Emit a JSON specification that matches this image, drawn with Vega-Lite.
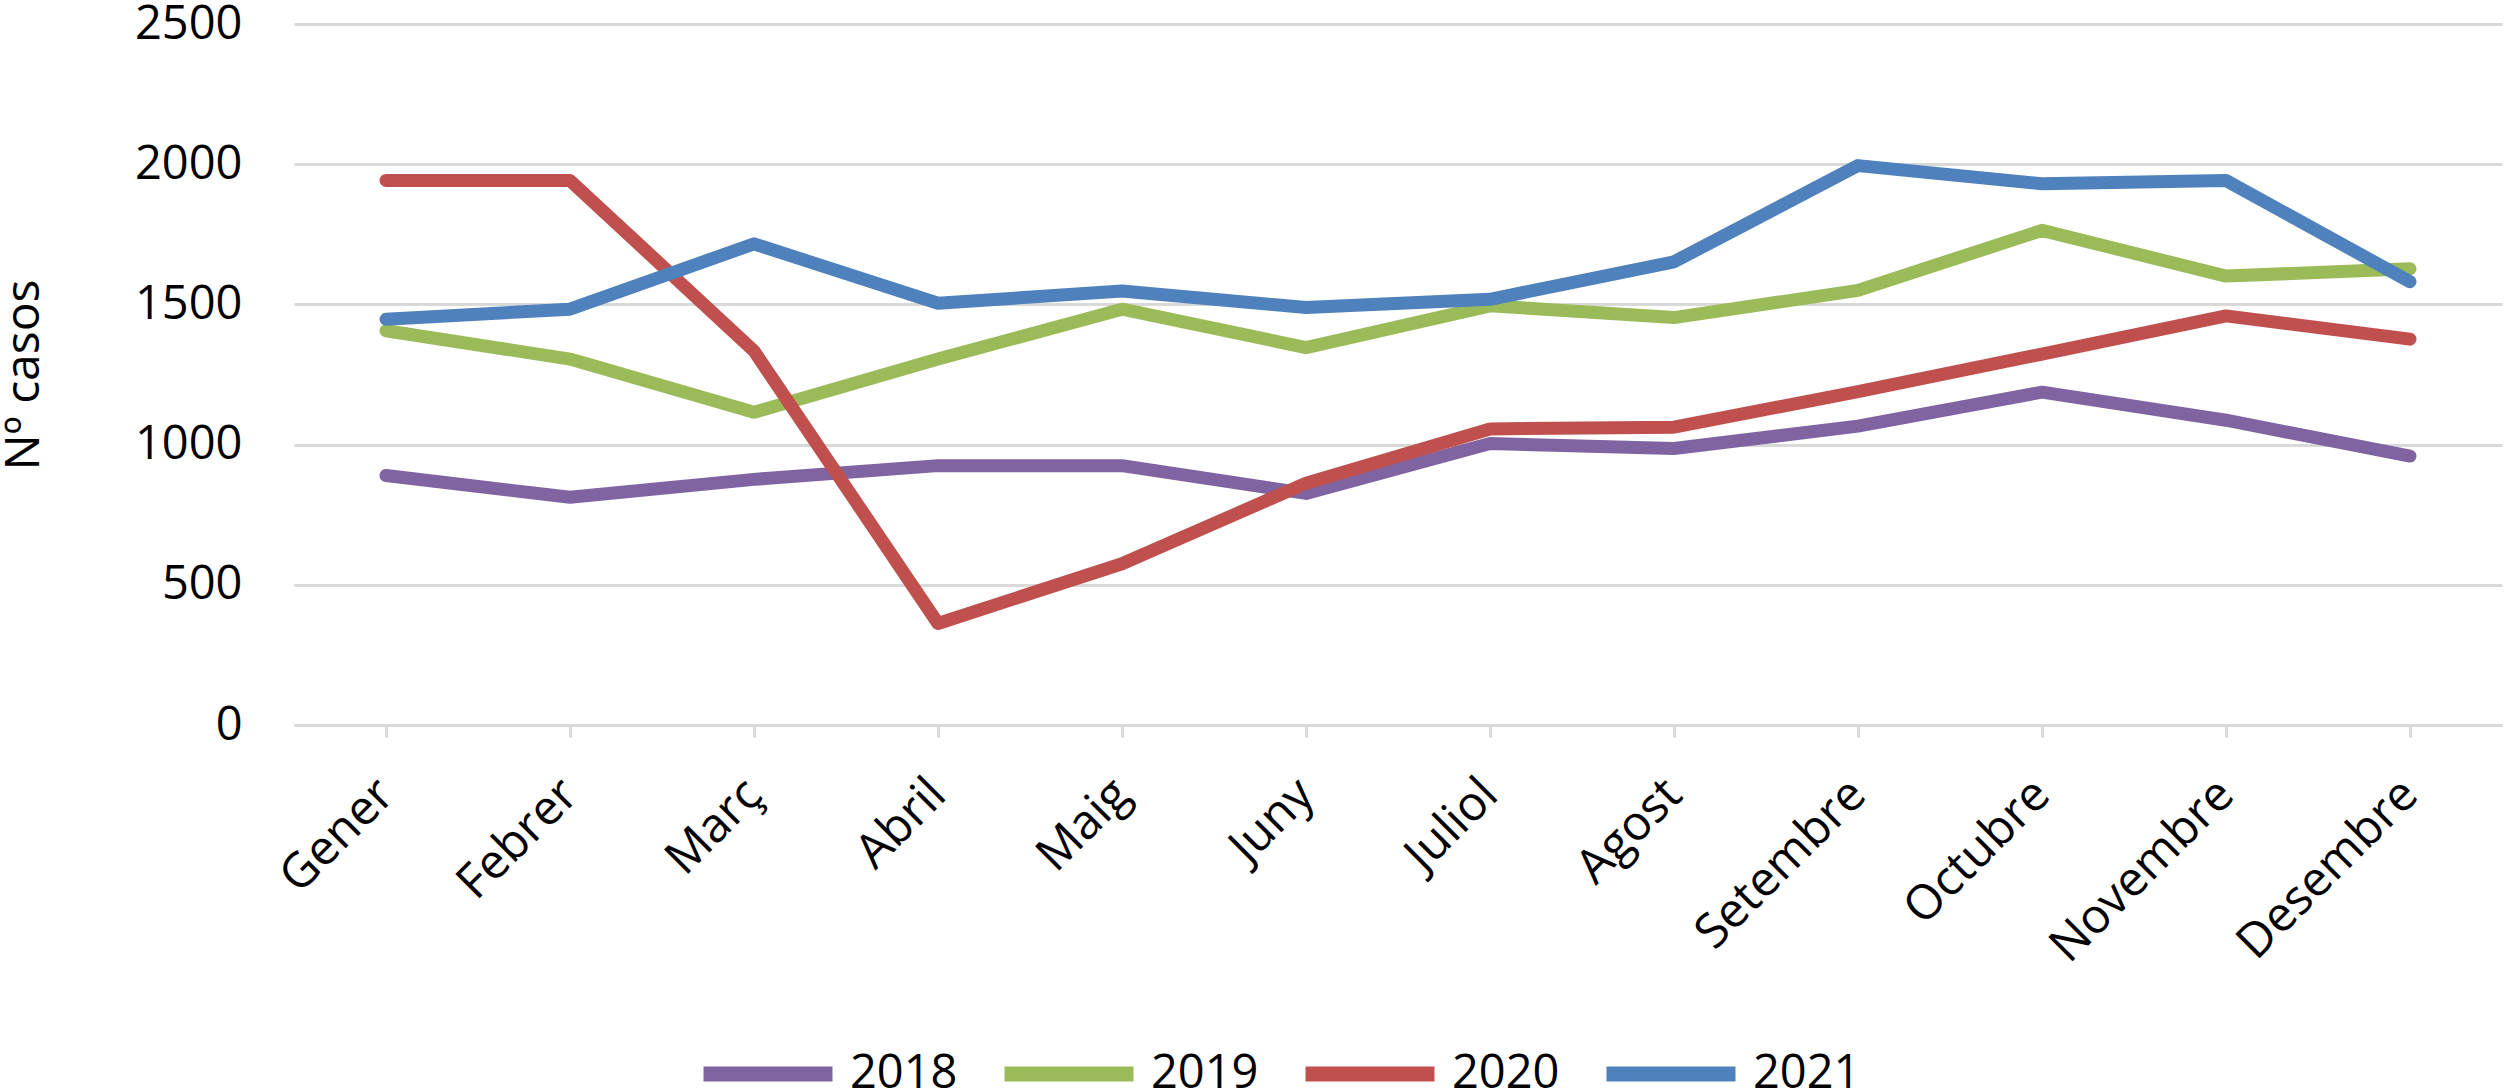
{
  "$schema": "https://vega.github.io/schema/vega-lite/v6.json",
  "width": 2208,
  "height": 701,
  "autosize": "none",
  "padding": {"left": 294, "top": 24, "right": 6, "bottom": 364},
  "background": "white",
  "config": {
    "font": "Open Sans",
    "view": {"stroke": null}
  },
  "data": {
    "values": [
      {"mes": "Gener", "any": "2018", "casos": 890},
      {"mes": "Febrer", "any": "2018", "casos": 812},
      {"mes": "Març", "any": "2018", "casos": 876},
      {"mes": "Abril", "any": "2018", "casos": 925},
      {"mes": "Maig", "any": "2018", "casos": 925},
      {"mes": "Juny", "any": "2018", "casos": 826},
      {"mes": "Juliol", "any": "2018", "casos": 1004},
      {"mes": "Agost", "any": "2018", "casos": 986},
      {"mes": "Setembre", "any": "2018", "casos": 1066},
      {"mes": "Octubre", "any": "2018", "casos": 1187},
      {"mes": "Novembre", "any": "2018", "casos": 1087},
      {"mes": "Desembre", "any": "2018", "casos": 959},
      {"mes": "Gener", "any": "2019", "casos": 1406},
      {"mes": "Febrer", "any": "2019", "casos": 1305},
      {"mes": "Març", "any": "2019", "casos": 1115},
      {"mes": "Abril", "any": "2019", "casos": 1305},
      {"mes": "Maig", "any": "2019", "casos": 1483},
      {"mes": "Juny", "any": "2019", "casos": 1346},
      {"mes": "Juliol", "any": "2019", "casos": 1495},
      {"mes": "Agost", "any": "2019", "casos": 1453},
      {"mes": "Setembre", "any": "2019", "casos": 1550},
      {"mes": "Octubre", "any": "2019", "casos": 1764},
      {"mes": "Novembre", "any": "2019", "casos": 1601},
      {"mes": "Desembre", "any": "2019", "casos": 1627},
      {"mes": "Gener", "any": "2020", "casos": 1942},
      {"mes": "Febrer", "any": "2020", "casos": 1942},
      {"mes": "Març", "any": "2020", "casos": 1334},
      {"mes": "Abril", "any": "2020", "casos": 362},
      {"mes": "Maig", "any": "2020", "casos": 575},
      {"mes": "Juny", "any": "2020", "casos": 862},
      {"mes": "Juliol", "any": "2020", "casos": 1056},
      {"mes": "Agost", "any": "2020", "casos": 1062},
      {"mes": "Setembre", "any": "2020", "casos": 1189},
      {"mes": "Octubre", "any": "2020", "casos": 1323},
      {"mes": "Novembre", "any": "2020", "casos": 1459},
      {"mes": "Desembre", "any": "2020", "casos": 1376},
      {"mes": "Gener", "any": "2021", "casos": 1447},
      {"mes": "Febrer", "any": "2021", "casos": 1483},
      {"mes": "Març", "any": "2021", "casos": 1716},
      {"mes": "Abril", "any": "2021", "casos": 1504},
      {"mes": "Maig", "any": "2021", "casos": 1548},
      {"mes": "Juny", "any": "2021", "casos": 1489},
      {"mes": "Juliol", "any": "2021", "casos": 1518},
      {"mes": "Agost", "any": "2021", "casos": 1652},
      {"mes": "Setembre", "any": "2021", "casos": 1995},
      {"mes": "Octubre", "any": "2021", "casos": 1930},
      {"mes": "Novembre", "any": "2021", "casos": 1942},
      {"mes": "Desembre", "any": "2021", "casos": 1581}
    ]
  },
  "mark": {"type": "line", "strokeWidth": 13, "strokeCap": "round", "strokeJoin": "round"},
  "encoding": {
    "x": {
      "field": "mes",
      "type": "ordinal",
      "sort": ["Gener", "Febrer", "Març", "Abril", "Maig", "Juny", "Juliol", "Agost", "Setembre", "Octubre", "Novembre", "Desembre"],
      "scale": {"type": "point", "padding": 0.5},
      "axis": {
        "title": null,
        "labelAngle": -45,
        "labelAlign": "right",
        "labelBaseline": "middle",
        "labelFontSize": 48,
        "labelColor": "black",
        "labelPadding": 50,
        "labelLimit": 0,
        "domainColor": "#D9D9D9",
        "domainWidth": 3,
        "tickColor": "#D9D9D9",
        "tickWidth": 3,
        "tickSize": 12,
        "grid": false
      }
    },
    "y": {
      "field": "casos",
      "type": "quantitative",
      "scale": {"domain": [0, 2500], "nice": false},
      "axis": {
        "title": "Nº casos",
        "titleFontSize": 48,
        "titleFontWeight": "normal",
        "titleColor": "black",
        "titlePadding": 86,
        "format": "d",
        "values": [0, 500, 1000, 1500, 2000, 2500],
        "labelFontSize": 47,
        "labelColor": "black",
        "labelPadding": 52,
        "ticks": false,
        "domain": false,
        "grid": true,
        "gridColor": "#D9D9D9",
        "gridWidth": 3
      }
    },
    "color": {
      "field": "any",
      "type": "nominal",
      "scale": {"domain": ["2018", "2019", "2020", "2021"], "range": ["#8064A2", "#9BBB59", "#C0504D", "#4F81BD"]},
      "legend": {
        "title": null,
        "orient": "none",
        "direction": "horizontal",
        "legendX": 402,
        "legendY": 978,
        "symbolType": "stroke",
        "symbolSize": 16641,
        "symbolStrokeWidth": 15,
        "labelFontSize": 47,
        "labelColor": "black",
        "labelOffset": 10,
        "columnPadding": 16
      }
    }
  }
}
